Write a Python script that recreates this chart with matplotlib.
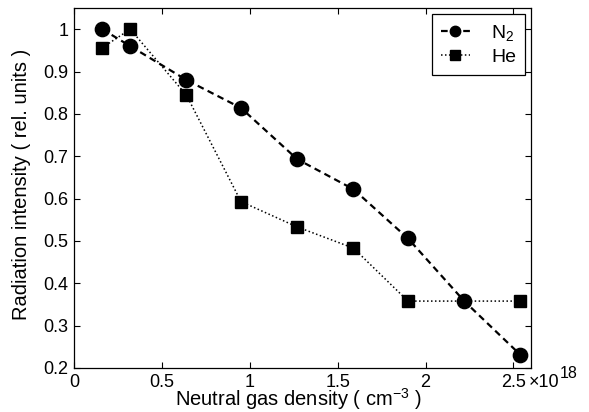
import matplotlib
matplotlib.use("Agg")
import matplotlib.pyplot as plt

plt.rcParams['font.family'] = ['Liberation Sans', 'DejaVu Sans']
plt.rcParams['mathtext.fontset'] = 'custom'
plt.rcParams['mathtext.rm'] = 'Liberation Sans'
plt.rcParams['mathtext.it'] = 'Liberation Sans'

# density in units of 1e18 cm^-3
n2_x = [0.16, 0.32, 0.64, 0.95, 1.27, 1.59, 1.90, 2.22, 2.54]
n2_y = [1.00, 0.96, 0.88, 0.814, 0.693, 0.622, 0.506, 0.358, 0.231]
he_x = [0.16, 0.32, 0.64, 0.95, 1.27, 1.59, 1.90, 2.54]
he_y = [0.956, 1.00, 0.844, 0.593, 0.533, 0.483, 0.358, 0.358]

xticks = [0, 0.5, 1, 1.5, 2, 2.5]
xticklabels = ['0', '0.5', '1', '1.5', '2', '2.5']
yticks = [0.2, 0.3, 0.4, 0.5, 0.6, 0.7, 0.8, 0.9, 1.0]
yticklabels = ['0.2', '0.3', '0.4', '0.5', '0.6', '0.7', '0.8', '0.9', '1']

fig = plt.figure(figsize=(5.89, 4.12), dpi=100)
ax = fig.add_axes([74/589, 1 - 368/412, 457/589, 360/412])

ax.plot(n2_x, n2_y, color='black', linestyle=(0, (3, 2)), linewidth=1.6,
        marker='o', markersize=10.3, label='N$_2$')
ax.plot(he_x, he_y, color='black', linestyle=(0, (1, 1.6)), linewidth=1.1,
        marker='s', markersize=8.9, label='He')

ax.set_xlim(0, 2.6)
ax.set_ylim(0.2, 1.05)
ax.set_xticks(xticks)
ax.set_xticklabels(xticklabels)
ax.set_yticks(yticks)
ax.set_yticklabels(yticklabels)
ax.tick_params(direction='in', top=True, right=True, length=4.5, width=0.8,
               labelsize=13)
ax.tick_params(axis='x', pad=4)
ax.tick_params(axis='y', pad=4)
for s in ax.spines.values():
    s.set_linewidth(0.9)

# multiplier shown right after the last tick label
ax.annotate('\u00d710', xy=(2.585, 0), xycoords=('data', 'axes fraction'),
            xytext=(0, -13.7), textcoords='offset points',
            fontsize=13, ha='left', va='baseline')
ax.annotate('18', xy=(2.585, 0), xycoords=('data', 'axes fraction'),
            xytext=(22.5, -7.0), textcoords='offset points',
            fontsize=11.5, ha='left', va='baseline')

ax.set_xlabel('Neutral gas density ( cm$^{-3}$ )', fontsize=14.5)
ax.xaxis.set_label_coords(0.491, -0.050)
ax.set_ylabel('Radiation intensity ( rel. units )', fontsize=14.5)
ax.yaxis.set_label_coords(-0.094, 0.51)

leg = ax.legend(loc='upper right', numpoints=1, handlelength=1.5,
                fontsize=14, fancybox=False, framealpha=1, edgecolor='black',
                borderaxespad=0.3, handletextpad=1.1, borderpad=0.45,
                labelspacing=0.3)
leg.get_frame().set_linewidth(0.9)
for h in leg.legend_handles:
    h.set_markersize(7.5)

fig.savefig('out.png', dpi=100)
